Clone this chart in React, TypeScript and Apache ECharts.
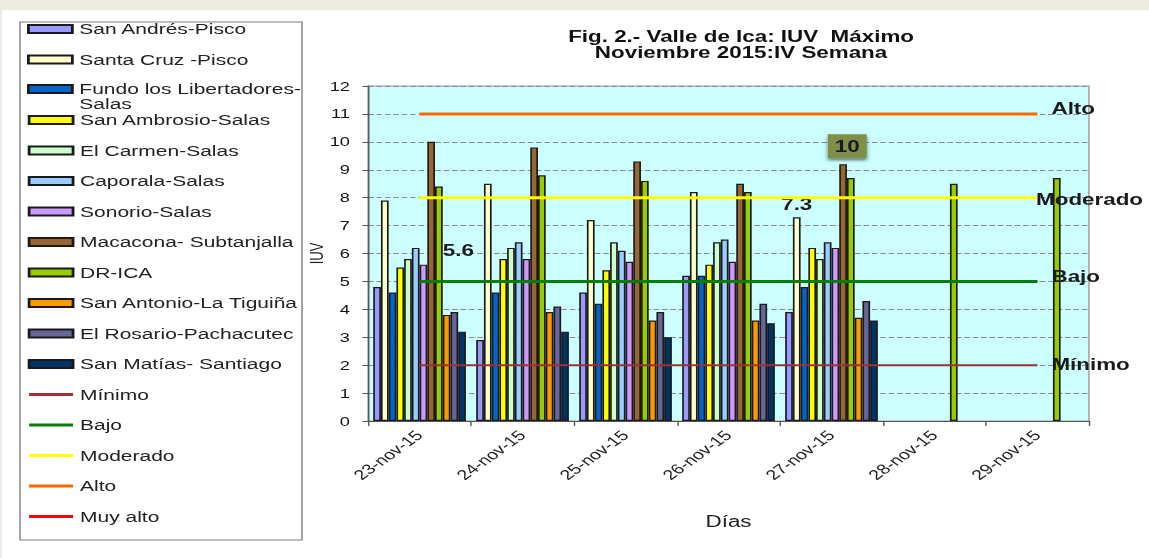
import React, { useEffect, useRef } from 'react';
import * as echarts from 'echarts';

// ---------- data ----------
const categories = ['23-nov-15', '24-nov-15', '25-nov-15', '26-nov-15', '27-nov-15', '28-nov-15', '29-nov-15'];

const sanAndresPisco = [4.8, 2.9, 4.6, 5.2, 3.9, null, null];
const santaCruzPisco = [7.9, 8.5, 7.2, 8.2, 7.3, null, null];
const fundoLibertadores = [4.6, 4.6, 4.2, 5.2, 4.8, null, null];
const sanAmbrosio = [5.5, 5.8, 5.4, 5.6, 6.2, null, null];
const elCarmen = [5.8, 6.2, 6.4, 6.4, 5.8, null, null];
const caporala = [6.2, 6.4, 6.1, 6.5, 6.4, null, null];
const sonorio = [5.6, 5.8, 5.7, 5.7, 6.2, null, null];
const macacona = [10, 9.8, 9.3, 8.5, 9.2, null, null];
const drIca = [8.4, 8.8, 8.6, 8.2, 8.7, 8.5, 8.7];
const sanAntonio = [3.8, 3.9, 3.6, 3.6, 3.7, null, null];
const elRosario = [3.9, 4.1, 3.9, 4.2, 4.3, null, null];
const sanMatias = [3.2, 3.2, 3.0, 3.5, 3.6, null, null];

const stationNames = [
  'San Andrés-Pisco',
  'Santa Cruz -Pisco',
  'Fundo los Libertadores-Salas',
  'San Ambrosio-Salas',
  'El Carmen-Salas',
  'Caporala-Salas',
  'Sonorio-Salas',
  'Macacona- Subtanjalla',
  'DR-ICA',
  'San Antonio-La Tiguiña',
  'El Rosario-Pachacutec',
  'San Matías- Santiago',
];
const stationValues = [
  sanAndresPisco, santaCruzPisco, fundoLibertadores, sanAmbrosio, elCarmen, caporala,
  sonorio, macacona, drIca, sanAntonio, elRosario, sanMatias,
];
const stationColors = [
  '#9999FF', '#FFFFCC', '#0066CC', '#FFFF00', '#CCFFCC', '#99CCFF',
  '#CC99FF', '#996633', '#99CC00', '#FF9900', '#666699', '#003366',
];

const levelNames = ['Mínimo', 'Bajo', 'Moderado', 'Alto', 'Muy alto'];
const levelValues = [2, 5, 8, 11, null];
const levelColors = ['#993333', '#008000', '#FFFF00', '#FF6600', '#FF0000'];

// annotations shown on the picture: [station index, category index, text]
const annotations: [number, number, string][] = [
  [6, 0, '5.6'],
  [1, 4, '7.3'],
  [7, 4, '10'],
];

// ---------- layout ----------
const W = 821;
const H = 558;
const S = 1149 / W;
const FONT = "'Liberation Sans', Arial, Helvetica, sans-serif";

const annotationStyles: Record<string, any> = {
  '5.6': { offset: [25, -1] },
  '7.3': { offset: [0, 0] },
  '10': {
    backgroundColor: '#7E8F4A',
    padding: [4, 5],
    distance: 6,
    offset: [3, 0],
    shadowColor: 'rgba(0,0,0,0.55)',
    shadowBlur: 3,
    shadowOffsetY: 2,
  },
};

const levelLabelOffsets: Record<string, number[]> = {
  'Mínimo': [5, -1],
  'Bajo': [5, -5.5],
  'Moderado': [-6, 2],
  'Alto': [5, -6],
};

function buildOption() {
  const barSeries = stationNames.map((name, si) => ({
    type: 'bar',
    name,
    barGap: '0%',
    barCategoryGap: '10%',
    itemStyle: { color: stationColors[si], borderColor: '#1a1a1a', borderWidth: 1.2 },
    data: stationValues[si].map((v, ci) => {
      const ann = annotations.find((a) => a[0] === si && a[1] === ci);
      if (!ann || v == null) return v;
      return {
        value: v,
        label: {
          show: true,
          position: 'top',
          formatter: ann[2],
          fontWeight: 'bold',
          fontSize: 16,
          color: '#1a1a1a',
          lineHeight: 16,
          ...(annotationStyles[ann[2]] || {}),
        },
      };
    }),
  }));

  const lineSeries = levelNames.map((name, li) => {
    const v = levelValues[li];
    return {
      type: 'line',
      name,
      symbol: 'none',
      lineStyle: { color: levelColors[li], width: li === 0 ? 2 : 3 },
      itemStyle: { color: levelColors[li] },
      z: 3,
      endLabel: {
        show: v != null,
        formatter: name,
        distance: 5,
        offset: levelLabelOffsets[name] || [0, 0],
        fontWeight: 'bold',
        fontSize: 16,
        color: '#1a1a1a',
      },
      data: v == null ? [] : categories.map(() => v),
    };
  });

  const legendText = { fontSize: 15, color: '#222', lineHeight: 15, fontFamily: FONT };
  const legendCommon = {
    orient: 'vertical',
    left: 19.3,
    itemWidth: 31.4,
    itemHeight: 8,
    itemGap: 15.5,
    padding: 0,
    selectedMode: false,
    textStyle: legendText,
  };

  return {
    animation: false,
    textStyle: { fontFamily: FONT },
    graphic: [
      { type: 'rect', z: -10, shape: { x: 0, y: 0, width: W, height: 10 }, style: { fill: '#EEEBE0' } },
      { type: 'rect', z: -10, shape: { x: 0, y: 0, width: 2 / S, height: H }, style: { fill: '#EEEBE0' } },
      {
        type: 'rect',
        z: -5,
        shape: { x: 14.3, y: 22, width: 201.5, height: 518 },
        style: { fill: '#fff', stroke: '#808080', lineWidth: 1 },
      },
      {
        type: 'text',
        x: 529.5,
        y: 44.5,
        style: {
          text: 'Fig. 2.- Valle de Ica: IUV  Máximo\nNoviembre 2015:IV Semana',
          align: 'center',
          verticalAlign: 'middle',
          font: `bold 16px ${FONT}`,
          lineHeight: 16,
          fill: '#111',
        },
      },
    ],
    legend: [
      {
        ...legendCommon,
        top: 21.5,
        data: stationNames.slice(0, 2).map((n) => ({ name: n, icon: 'rect' })),
      },
      {
        ...legendCommon,
        top: 66.5,
        textStyle: { ...legendText, rich: { s: { fontSize: 15, lineHeight: 15 } } },
        data: stationNames.slice(2, 3).map((n) => ({ name: n, icon: 'rect' })),
        formatter: (n: string) =>
          n === 'Fundo los Libertadores-Salas' ? '{s| }\nFundo los Libertadores-\nSalas' : n,
      },
      {
        ...legendCommon,
        top: 112.5,
        data: [
          ...stationNames.slice(3).map((n) => ({ name: n, icon: 'rect' })),
          ...levelNames.map((n) => ({ name: n, itemStyle: { opacity: 0 }, lineStyle: { width: 3 } })),
        ],
      },
    ],
    grid: {
      left: 263,
      right: W - 778.1,
      top: 86,
      bottom: 137,
      show: true,
      backgroundColor: '#CCFFFF',
      borderColor: '#999',
      borderWidth: 1,
    },
    xAxis: {
      type: 'category',
      data: categories,
      axisLine: { lineStyle: { color: '#555', width: 1 } },
      axisTick: { show: true, length: 5, lineStyle: { color: '#555' } },
      axisLabel: { rotate: 45, fontSize: 14, color: '#222', margin: 12, interval: 0 },
      splitLine: { show: false },
      name: 'Días',
      nameLocation: 'middle',
      nameGap: 92,
      nameMoveOverlap: false,
      nameTextStyle: { fontSize: 16, color: '#222' },
    },
    yAxis: {
      type: 'value',
      min: 0,
      max: 12,
      interval: 1,
      axisLine: { show: true, lineStyle: { color: '#555' } },
      axisTick: { show: true, length: 4, lineStyle: { color: '#555' } },
      axisLabel: { fontSize: 13, color: '#111', margin: 13 },
      splitLine: { lineStyle: { type: 'dashed', color: '#8c8c8c', width: 1 } },
      name: 'IUV',
      nameLocation: 'middle',
      nameGap: 30,
      nameMoveOverlap: false,
      nameTextStyle: { fontSize: 13, color: '#222' },
    },
    series: [...barSeries, ...lineSeries],
  };
}

export default function App() {
  const ref = useRef<HTMLDivElement>(null);
  useEffect(() => {
    if (!ref.current) return;
    const chart = echarts.init(ref.current, null, { renderer: 'svg' });
    chart.setOption(buildOption() as any);
    return () => chart.dispose();
  }, []);
  return (
    <div
      ref={ref}
      style={{
        position: 'fixed',
        left: 0,
        top: 0,
        width: W,
        height: H,
        transform: `scaleX(${S})`,
        transformOrigin: '0 0',
        background: '#fff',
      }}
    />
  );
}
